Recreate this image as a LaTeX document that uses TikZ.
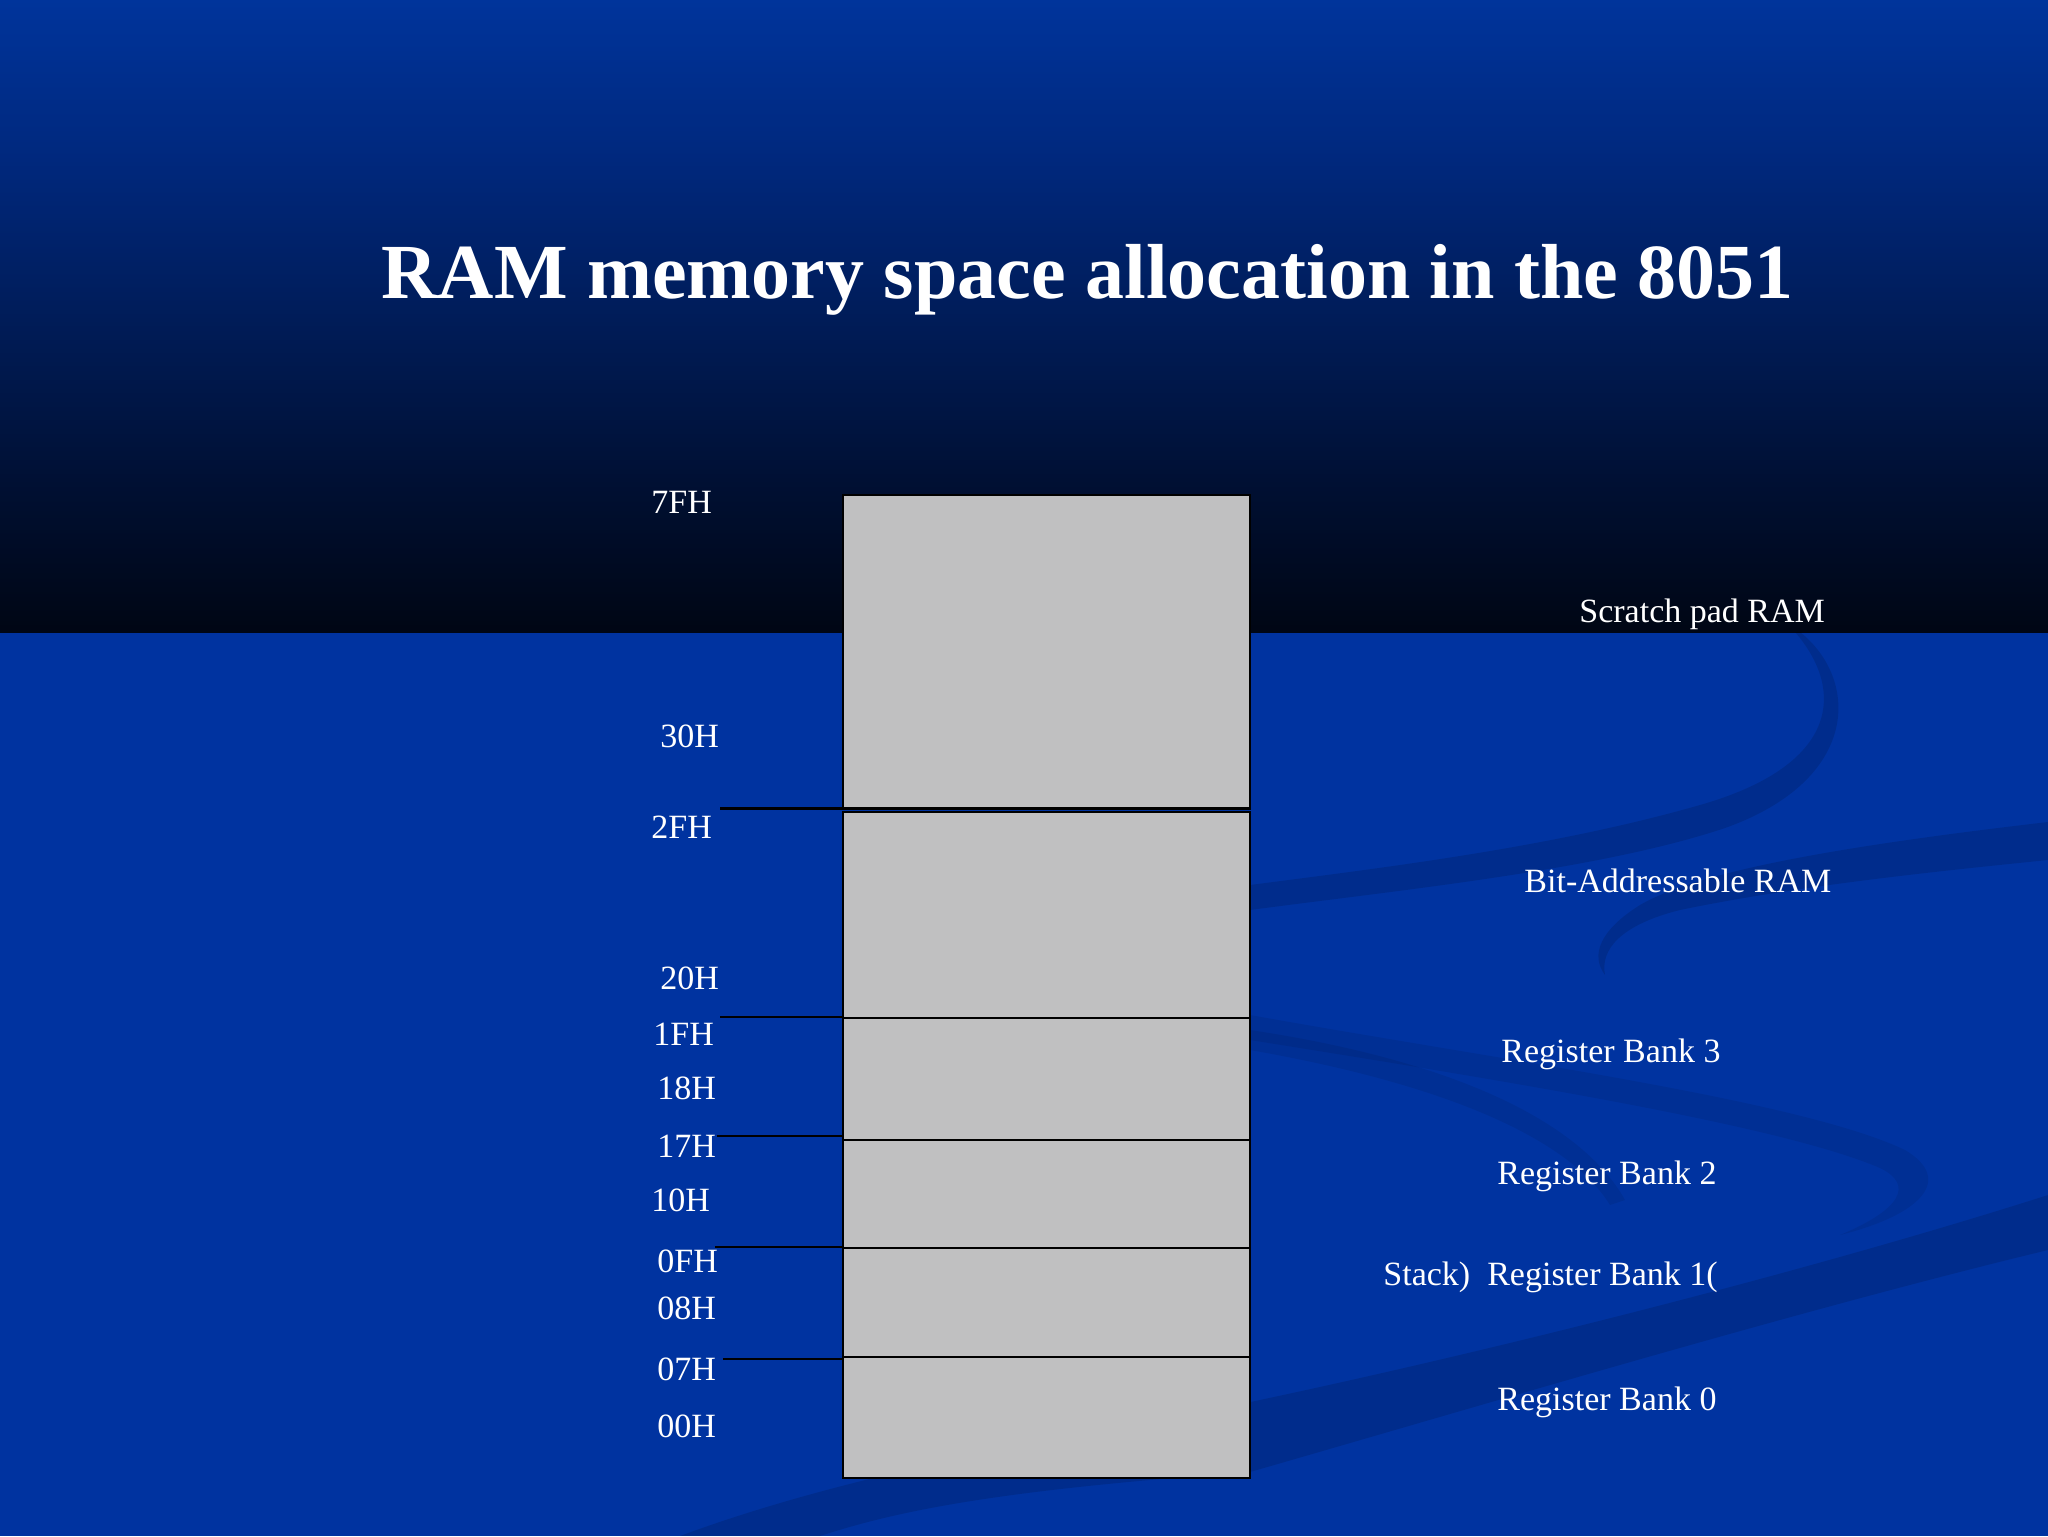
\documentclass[tikz,border=0pt]{standalone}
\usepackage{fontspec}
\setmainfont{Liberation Serif}
\definecolor{bgblue}{RGB}{0,51,160}
\definecolor{gA}{RGB}{0,52,155}
\definecolor{gB}{RGB}{0,40,125}
\definecolor{gC}{RGB}{0,28,88}
\definecolor{gD}{RGB}{0,16,52}
\definecolor{gE}{RGB}{0,6,20}
\definecolor{cellgray}{RGB}{192,192,193}
\tikzset{
  cell/.style={draw=black, line width=1.1pt, fill=cellgray, minimum width=203.5pt, inner sep=0pt, anchor=north west},
  stub/.style={draw=black, line width=1.2pt},
  addr/.style={text=white, font=\fontsize{17}{20}\selectfont, anchor=base west, inner sep=0pt},
  region/.style={text=white, font=\fontsize{17}{20}\selectfont, anchor=base west, inner sep=0pt},
  swirl/.style={fill=black, fill opacity=0.12, draw=none},
  faintswirl/.style={fill=black, fill opacity=0.07, draw=none}
}
\begin{document}
\begin{tikzpicture}[x=0.5pt,y=-0.5pt]
\useasboundingbox (0,0) rectangle (2048,1536);
% background
\fill[bgblue] (0,0) rectangle (2048,1536);
\shade[top color=gA, bottom color=gB] (0,0) rectangle (2048,160);
\shade[top color=gB, bottom color=gC] (0,159) rectangle (2048,320);
\shade[top color=gC, bottom color=gD] (0,319) rectangle (2048,480);
\shade[top color=gD, bottom color=gE] (0,479) rectangle (2048,632);
% swirls
\fill[swirl] (1795,632) .. controls (1845,690) and (1840,765) .. (1700,805) .. controls (1550,848) and (1380,868) .. (1250,885) -- (1250,910) .. controls (1400,890) and (1600,870) .. (1725,828) .. controls (1860,780) and (1860,680) .. (1800,632) -- cycle;
\fill[swirl] (2048,822) .. controls (1850,845) and (1700,870) .. (1640,905) .. controls (1600,930) and (1590,955) .. (1605,975) .. controls (1600,950) and (1620,925) .. (1680,910) .. controls (1800,885) and (1950,870) .. (2048,860) -- cycle;
\fill[faintswirl] (1250,1015) .. controls (1500,1060) and (1800,1100) .. (1905,1150) .. controls (1955,1180) and (1920,1215) .. (1840,1235) .. controls (1900,1210) and (1915,1185) .. (1880,1168) .. controls (1780,1125) and (1500,1080) .. (1250,1040) -- cycle;
\fill[faintswirl] (1250,1030) .. controls (1450,1060) and (1580,1120) .. (1625,1200) -- (1610,1205) .. controls (1570,1140) and (1450,1085) .. (1250,1050) -- cycle;
\fill[swirl] (2048,1195) .. controls (1750,1290) and (1300,1400) .. (1000,1450) .. controls (850,1480) and (750,1510) .. (680,1536) -- (820,1536) .. controls (900,1510) and (1000,1490) .. (1250,1472) .. controls (1500,1400) and (1800,1310) .. (2048,1250) -- cycle;
% title
\node[anchor=base west, inner sep=0pt, text=white, font=\fontsize{39}{46}\selectfont\bfseries] (title) at (381,298) {RAM memory space allocation in the 8051};
% memory cells
\node[cell, minimum height=156.5pt] (scratch) at (842,494) {};
\node[cell, minimum height=103pt] (bitaddr) at (842,811) {};
\node[cell, minimum height=61pt] (bank3) at (842,1017) {};
\node[cell, minimum height=54pt] (bank2) at (842,1139) {};
\node[cell, minimum height=54.5pt] (bank1) at (842,1247) {};
\node[cell, minimum height=60.5pt] (bank0) at (842,1356) {};
% boundary stubs
\coordinate (t2F) at (720,808.5);
\coordinate (t1F) at (720,1017);
\coordinate (t17) at (717,1136);
\coordinate (t0F) at (715,1247);
\coordinate (t07) at (723,1359);
\draw[stub, line width=1.8pt] (t2F) -- (t2F -| bitaddr.east);
\draw[stub] (t1F) -- (t1F -| bank3.west);
\draw[stub] (t17) -- ([xshift=1pt]t17 -| bank2.west);
\draw[stub] (t0F) -- (t0F -| bank1.west);
\draw[stub] (t07) -- ([xshift=1pt]t07 -| bank0.west);
% address labels
\node[addr] (a7F) at (651,513) {7FH};
\node[addr] (a30) at (660,747) {30H};
\node[addr] (a2F) at (651,838) {2FH};
\node[addr] (a20) at (660,989) {20H};
\node[addr] (a1F) at (653,1045) {1FH};
\node[addr] (a18) at (657,1099) {18H};
\node[addr] (a17) at (657,1157) {17H};
\node[addr] (a10) at (651,1211) {10H};
\node[addr] (a0F) at (657,1272) {0FH};
\node[addr] (a08) at (657,1319) {08H};
\node[addr] (a07) at (657,1380) {07H};
\node[addr] (a00) at (657,1437) {00H};
% region labels
\node[region] (lscratch) at (1579,622) {Scratch pad RAM};
\node[region] (lbit) at (1524,892) {Bit-Addressable RAM};
\node[region] (lb3) at (1501,1062) {Register Bank 3};
\node[region] (lb2) at (1497,1184) {Register Bank 2};
\node[region] (lb1) at (1383,1285) {Stack)\ \ Register Bank 1(};
\node[region] (lb0) at (1497,1410) {Register Bank 0};
\end{tikzpicture}
\end{document}
